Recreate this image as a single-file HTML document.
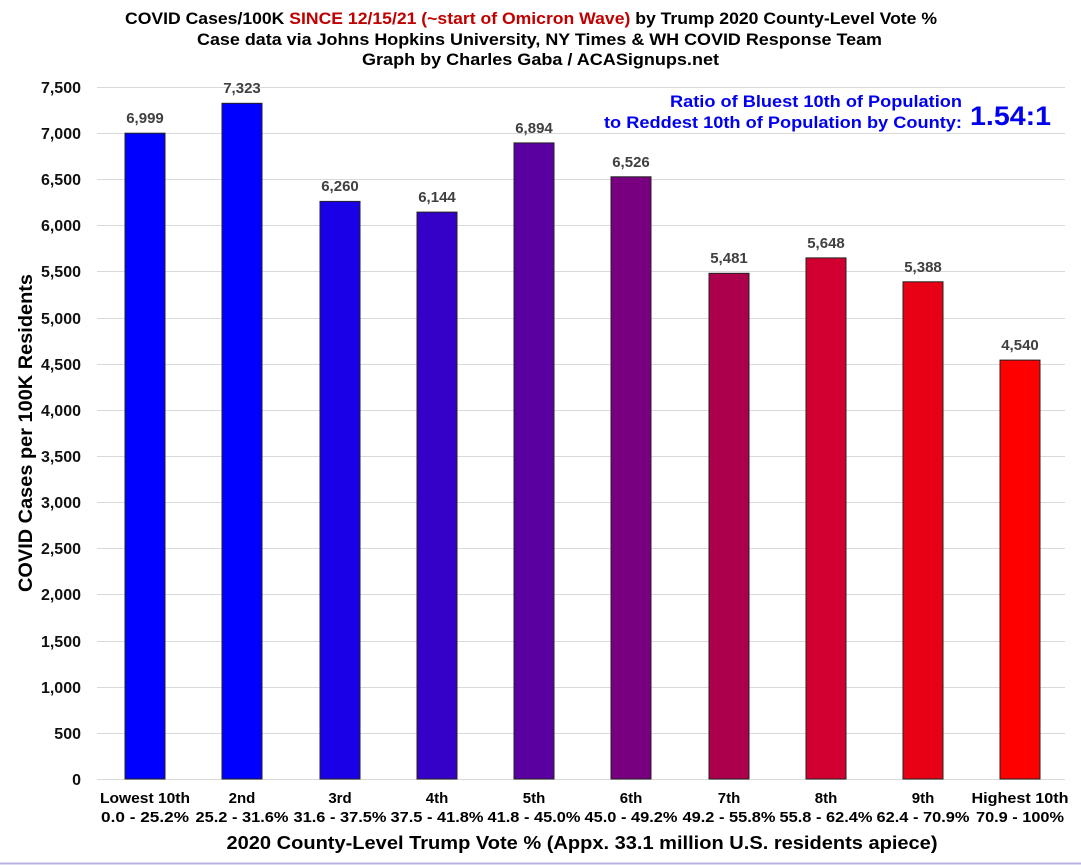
<!DOCTYPE html>
<html><head><meta charset="utf-8"><style>
html,body{margin:0;padding:0;background:#fff;}
svg{display:block;}
text{font-family:"Liberation Sans",sans-serif;font-weight:bold;}
</style></head><body>
<svg width="1081" height="865" viewBox="0 0 1081 865" xmlns="http://www.w3.org/2000/svg">
<rect width="1081" height="865" fill="#fff"/>
<g font-size="17">
<text x="125" y="24" textLength="812" lengthAdjust="spacingAndGlyphs"><tspan fill="#000">COVID Cases/100K </tspan><tspan fill="#c00000">SINCE 12/15/21 (~start of Omicron Wave)</tspan><tspan fill="#000"> by Trump 2020 County-Level Vote %</tspan></text>
<text x="197" y="45" textLength="685" lengthAdjust="spacingAndGlyphs">Case data via Johns Hopkins University, NY Times &amp; WH COVID Response Team</text>
<text x="362" y="65" textLength="357" lengthAdjust="spacingAndGlyphs">Graph by Charles Gaba / ACASignups.net</text>
</g>
<g stroke="#d9d9d9" stroke-width="1">
<line x1="97" x2="1065" y1="87.5" y2="87.5"/><line x1="97" x2="1065" y1="133.5" y2="133.5"/><line x1="97" x2="1065" y1="179.5" y2="179.5"/><line x1="97" x2="1065" y1="225.5" y2="225.5"/><line x1="97" x2="1065" y1="271.5" y2="271.5"/><line x1="97" x2="1065" y1="318.5" y2="318.5"/><line x1="97" x2="1065" y1="364.5" y2="364.5"/><line x1="97" x2="1065" y1="410.5" y2="410.5"/><line x1="97" x2="1065" y1="456.5" y2="456.5"/><line x1="97" x2="1065" y1="502.5" y2="502.5"/><line x1="97" x2="1065" y1="548.5" y2="548.5"/><line x1="97" x2="1065" y1="594.5" y2="594.5"/><line x1="97" x2="1065" y1="641.5" y2="641.5"/><line x1="97" x2="1065" y1="687.5" y2="687.5"/><line x1="97" x2="1065" y1="733.5" y2="733.5"/><line x1="97" x2="1065" y1="779.5" y2="779.5"/>
</g>
<g font-size="16" fill="#111" text-anchor="end">
<text x="81" y="93">7,500</text><text x="81" y="139">7,000</text><text x="81" y="185">6,500</text><text x="81" y="231">6,000</text><text x="81" y="277">5,500</text><text x="81" y="324">5,000</text><text x="81" y="370">4,500</text><text x="81" y="416">4,000</text><text x="81" y="462">3,500</text><text x="81" y="508">3,000</text><text x="81" y="554">2,500</text><text x="81" y="600">2,000</text><text x="81" y="647">1,500</text><text x="81" y="693">1,000</text><text x="81" y="739">500</text><text x="81" y="785">0</text>
</g>
<text transform="translate(32,433) rotate(-90)" font-size="19" text-anchor="middle" textLength="318" lengthAdjust="spacingAndGlyphs">COVID Cases per 100K Residents</text>
<g stroke="#222" stroke-width="1">
<rect x="125" y="133.2" width="40" height="645.8" fill="#0000ff"/>
<rect x="222" y="103.3" width="40" height="675.7" fill="#0000ff"/>
<rect x="320" y="201.4" width="40" height="577.6" fill="#1a00e6"/>
<rect x="417" y="212.1" width="40" height="566.9" fill="#3500c8"/>
<rect x="514" y="142.9" width="40" height="636.1" fill="#5a00a0"/>
<rect x="611" y="176.8" width="40" height="602.2" fill="#780080"/>
<rect x="709" y="273.3" width="40" height="505.7" fill="#ad004c"/>
<rect x="806" y="257.9" width="40" height="521.1" fill="#d20030"/>
<rect x="903" y="281.8" width="40" height="497.2" fill="#e80014"/>
<rect x="1000" y="360.1" width="40" height="418.9" fill="#ff0000"/>
</g>
<g font-size="15" fill="#404040" text-anchor="middle">
<text x="145" y="123">6,999</text><text x="242" y="93">7,323</text><text x="340" y="191">6,260</text><text x="437" y="202">6,144</text><text x="534" y="133">6,894</text><text x="631" y="167">6,526</text><text x="729" y="263">5,481</text><text x="826" y="248">5,648</text><text x="923" y="272">5,388</text><text x="1020" y="350">4,540</text>
</g>
<g font-size="15" fill="#000" text-anchor="middle">
<text x="145" y="803" textLength="90" lengthAdjust="spacingAndGlyphs">Lowest 10th</text>
<text x="242" y="803">2nd</text><text x="340" y="803">3rd</text><text x="437" y="803">4th</text><text x="534" y="803">5th</text><text x="631" y="803">6th</text><text x="729" y="803">7th</text><text x="826" y="803">8th</text><text x="923" y="803">9th</text>
<text x="1020" y="803" textLength="97" lengthAdjust="spacingAndGlyphs">Highest 10th</text>
<text x="145" y="822" textLength="88" lengthAdjust="spacingAndGlyphs">0.0 - 25.2%</text>
<text x="242" y="822" textLength="93" lengthAdjust="spacingAndGlyphs">25.2 - 31.6%</text>
<text x="340" y="822" textLength="93" lengthAdjust="spacingAndGlyphs">31.6 - 37.5%</text>
<text x="437" y="822" textLength="93" lengthAdjust="spacingAndGlyphs">37.5 - 41.8%</text>
<text x="534" y="822" textLength="93" lengthAdjust="spacingAndGlyphs">41.8 - 45.0%</text>
<text x="631" y="822" textLength="93" lengthAdjust="spacingAndGlyphs">45.0 - 49.2%</text>
<text x="729" y="822" textLength="93" lengthAdjust="spacingAndGlyphs">49.2 - 55.8%</text>
<text x="826" y="822" textLength="93" lengthAdjust="spacingAndGlyphs">55.8 - 62.4%</text>
<text x="923" y="822" textLength="93" lengthAdjust="spacingAndGlyphs">62.4 - 70.9%</text>
<text x="1020" y="822" textLength="88" lengthAdjust="spacingAndGlyphs">70.9 - 100%</text>
</g>
<text x="582" y="849" font-size="18" text-anchor="middle" textLength="711" lengthAdjust="spacingAndGlyphs">2020 County-Level Trump Vote % (Appx. 33.1 million U.S. residents apiece)</text>
<g fill="#0000ee">
<text x="670" y="107" font-size="17" textLength="292" lengthAdjust="spacingAndGlyphs">Ratio of Bluest 10th of Population</text>
<text x="604" y="128" font-size="17" textLength="358" lengthAdjust="spacingAndGlyphs">to Reddest 10th of Population by County:</text>
<text x="970" y="125" font-size="27" textLength="81" lengthAdjust="spacingAndGlyphs">1.54:1</text>
</g>
<line x1="0" x2="1081" y1="863.5" y2="863.5" stroke="#b8b4e0" stroke-width="2"/>
</svg>
</body></html>
